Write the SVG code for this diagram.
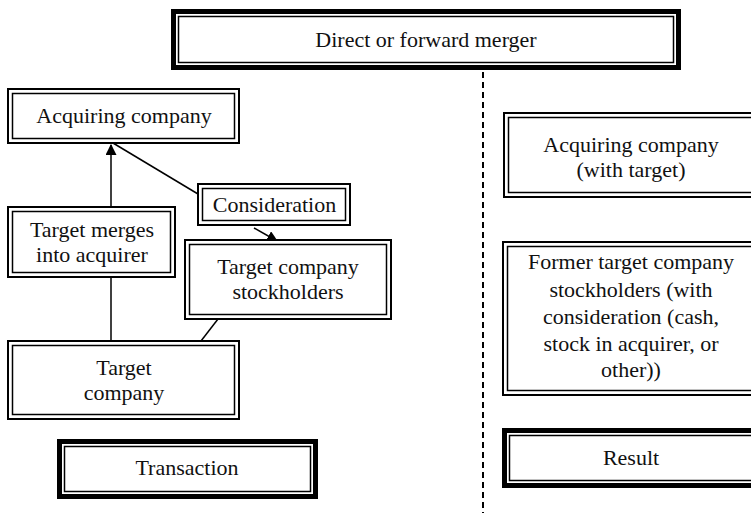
<svg xmlns="http://www.w3.org/2000/svg" width="751" height="513" viewBox="0 0 751 513">
<defs>
<style>
.bg{fill:#fff}
.o{fill:#fff;stroke:#000;stroke-width:2}
.i{fill:none;stroke:#000;stroke-width:1.5}
.to{fill:#fff;stroke:#000;stroke-width:5}
.t{font-family:"Liberation Serif","Times New Roman",serif;font-size:22px;fill:#111;text-anchor:middle}
.c{stroke:#000;stroke-width:1.5;fill:none}
.d{stroke:#000;stroke-width:2;stroke-dasharray:6,4;fill:none}
</style>
<marker id="ah" viewBox="0 0 10 10" refX="9" refY="5" markerWidth="11" markerHeight="11" markerUnits="userSpaceOnUse" orient="auto">
<path d="M0,0 L10,5 L0,10 z" fill="#000"/>
</marker>
</defs>
<rect class="bg" x="0" y="0" width="751" height="513"/>
<g id="connectors">
<line class="d" x1="483" y1="72" x2="483" y2="513"/>
<line class="c" x1="111" y1="206" x2="111" y2="145" marker-end="url(#ah)"/>
<line class="c" x1="111" y1="340" x2="111" y2="277"/>
<line class="c" x1="113" y1="143" x2="198" y2="194"/>
<line class="c" x1="254" y1="228" x2="277" y2="241" marker-end="url(#ah)"/>
<line class="c" x1="218" y1="319" x2="201" y2="341"/>
</g>
<g id="title">
<rect class="to" x="173.5" y="11.5" width="505" height="56"/>
<rect class="i" x="178.5" y="16.5" width="495" height="46"/>
<text class="t" x="426" y="47">Direct or forward merger</text>
</g>
<g id="acquiring">
<rect class="o" x="8" y="89" width="231" height="54"/>
<rect class="i" x="12.5" y="93.5" width="222" height="45"/>
<text class="t" x="124" y="123">Acquiring company</text>
</g>
<g id="consideration">
<rect class="o" x="198" y="184" width="152" height="41"/>
<rect class="i" x="202.5" y="188.5" width="143" height="32"/>
<text class="t" x="274.5" y="212">Consideration</text>
</g>
<g id="merges">
<rect class="o" x="8" y="207" width="167" height="70"/>
<rect class="i" x="12.5" y="211.5" width="158" height="61"/>
<text class="t" x="92" y="237">Target merges</text>
<text class="t" x="92" y="262">into acquirer</text>
</g>
<g id="stockholders">
<rect class="o" x="185" y="240" width="206" height="79"/>
<rect class="i" x="189.5" y="244.5" width="197" height="70"/>
<text class="t" x="288" y="274">Target company</text>
<text class="t" x="288" y="299">stockholders</text>
</g>
<g id="target">
<rect class="o" x="8" y="341" width="231" height="78"/>
<rect class="i" x="12.5" y="345.5" width="222" height="69"/>
<text class="t" x="124" y="375">Target</text>
<text class="t" x="124" y="400">company</text>
</g>
<g id="transaction">
<rect class="to" x="59.5" y="441.5" width="256" height="55"/>
<rect class="i" x="64.5" y="446.5" width="246" height="45"/>
<text class="t" x="187" y="475">Transaction</text>
</g>
<g id="acq-result">
<rect class="o" x="504" y="113" width="256" height="84"/>
<rect class="i" x="508.5" y="117.5" width="247" height="75"/>
<text class="t" x="631" y="152">Acquiring company</text>
<text class="t" x="631" y="177">(with target)</text>
</g>
<g id="former">
<rect class="o" x="503" y="242" width="257" height="153"/>
<rect class="i" x="507.5" y="246.5" width="248" height="144"/>
<text class="t" x="631" y="269">Former target company</text>
<text class="t" x="631" y="297">stockholders (with</text>
<text class="t" x="631" y="324">consideration (cash,</text>
<text class="t" x="631" y="351">stock in acquirer, or</text>
<text class="t" x="631" y="377">other))</text>
</g>
<g id="result">
<rect class="to" x="504.5" y="430.5" width="256" height="55"/>
<rect class="i" x="509.5" y="435.5" width="246" height="45"/>
<text class="t" x="631" y="465">Result</text>
</g>
</svg>
